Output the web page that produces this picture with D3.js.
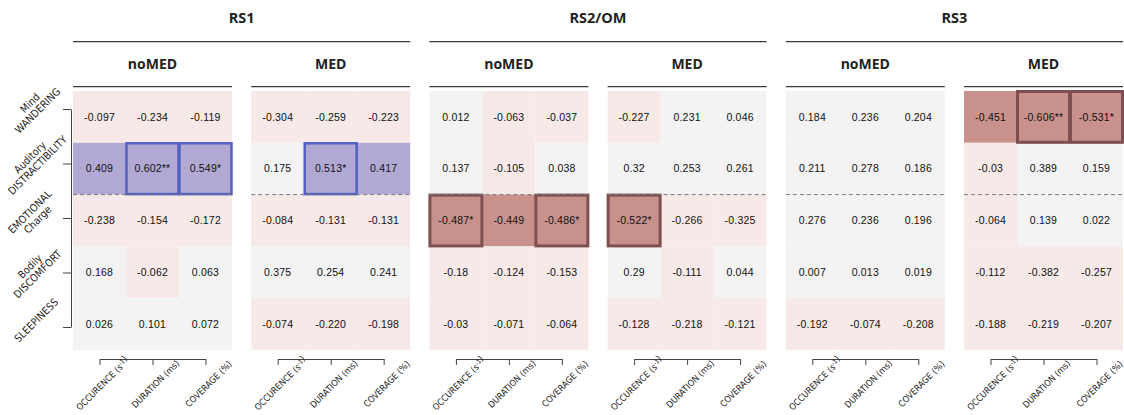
<!DOCTYPE html>
<html>
<head>
<meta charset="utf-8">
<script src="https://cdn.jsdelivr.net/npm/d3@7"></script>
<style>
  html, body { margin: 0; padding: 0; background: #fff; }
  svg { display: block; }
</style>
</head>
<body>
<svg id="chart" width="1124" height="415"></svg>
<script>
// ---------------- DATA ----------------
const groups = ["RS1", "RS2/OM", "RS3"];
const conditions = ["noMED", "MED"];
const rowKeys = ["MW", "AD", "EC", "BD", "SL"];
const rowLabels = [["Mind", "WANDERING"], ["Auditory", "DISTRACTIBILITY"], ["EMOTIONAL", "Charge"], ["Bodily", "DISCOMFORT"], ["SLEEPINESS"]];
const colKeys = ["occ", "dur", "cov"];
const colLabels = ["OCCURENCE (s{-1})", "DURATION (ms)", "COVERAGE (%)"];

const rs1_noMED = [
  ["-0.097", "-0.234", "-0.119"],
  ["0.409", "0.602**", "0.549*"],
  ["-0.238", "-0.154", "-0.172"],
  ["0.168", "-0.062", "0.063"],
  ["0.026", "0.101", "0.072"]
];
const rs1_MED = [
  ["-0.304", "-0.259", "-0.223"],
  ["0.175", "0.513*", "0.417"],
  ["-0.084", "-0.131", "-0.131"],
  ["0.375", "0.254", "0.241"],
  ["-0.074", "-0.220", "-0.198"]
];
const rs2_noMED = [
  ["0.012", "-0.063", "-0.037"],
  ["0.137", "-0.105", "0.038"],
  ["-0.487*", "-0.449", "-0.486*"],
  ["-0.18", "-0.124", "-0.153"],
  ["-0.03", "-0.071", "-0.064"]
];
const rs2_MED = [
  ["-0.227", "0.231", "0.046"],
  ["0.32", "0.253", "0.261"],
  ["-0.522*", "-0.266", "-0.325"],
  ["0.29", "-0.111", "0.044"],
  ["-0.128", "-0.218", "-0.121"]
];
const rs3_noMED = [
  ["0.184", "0.236", "0.204"],
  ["0.211", "0.278", "0.186"],
  ["0.276", "0.236", "0.196"],
  ["0.007", "0.013", "0.019"],
  ["-0.192", "-0.074", "-0.208"]
];
const rs3_MED = [
  ["-0.451", "-0.606**", "-0.531*"],
  ["-0.03", "0.389", "0.159"],
  ["-0.064", "0.139", "0.022"],
  ["-0.112", "-0.382", "-0.257"],
  ["-0.188", "-0.219", "-0.207"]
];
const panelData = [rs1_noMED, rs1_MED, rs2_noMED, rs2_MED, rs3_noMED, rs3_MED];

// ---------------- STYLE ----------------
const C = {
  strongNeg: "#c9918b", weakNeg: "#f6e9e8", weakPos: "#f3f3f3", strongPos: "#b1a8d4",
  borderNeg: "#7e4f50", borderPos: "#5360c2", line: "#3a3a3a", text: "#111"
};
const labelFont = "'Liberation Sans Narrow', 'DejaVu Sans Condensed', 'Arial Narrow', sans-serif";
const headFont = "'Open Sans', 'Noto Sans', sans-serif";
const valueFont = "'Liberation Sans', Arial, sans-serif";

const svg = d3.select("#chart");

const panelScale = d3.scaleBand().domain(d3.range(6)).range([73, 1123]).paddingInner(0.108).paddingOuter(0);
const bw = panelScale.bandwidth();
const colScale = d3.scaleBand().domain(colKeys).range([0, bw]);
const rowScale = d3.scaleBand().domain(rowKeys).range([91, 350]);
const color = d3.scaleThreshold().domain([-0.4, 0, 0.4]).range([C.strongNeg, C.weakNeg, C.weakPos, C.strongPos]);

// ---------------- HEADERS ----------------
groups.forEach((g, gi) => {
  const x0 = panelScale(gi * 2), x1 = panelScale(gi * 2 + 1) + bw;
  svg.append("line").attr("x1", x0).attr("x2", x1).attr("y1", 41.7).attr("y2", 41.7)
    .attr("stroke", C.line).attr("stroke-width", 1.3);
  svg.append("text").attr("x", (x0 + x1) / 2).attr("y", 23).attr("text-anchor", "middle")
    .attr("font-family", headFont).attr("font-weight", 700).attr("font-size", 14.5)
    .attr("fill", "#222").text(g);
});

// ---------------- PANELS ----------------
panelData.forEach((data, pi) => {
  const px = panelScale(pi);
  const gp = svg.append("g").attr("transform", `translate(${px},0)`);
  gp.append("line").attr("x1", 0).attr("x2", bw).attr("y1", 86.7).attr("y2", 86.7)
    .attr("stroke", C.line).attr("stroke-width", 1.3);
  gp.append("text").attr("x", bw / 2).attr("y", 69).attr("text-anchor", "middle")
    .attr("font-family", headFont).attr("font-weight", 700).attr("font-size", 14)
    .attr("fill", "#222").text(conditions[pi % 2]);

  const cells = [];
  data.forEach((row, ri) => row.forEach((lab, ci) => {
    cells.push({ r: rowKeys[ri], c: colKeys[ci], lab, v: parseFloat(lab), sig: lab.includes("*") });
  }));

  gp.selectAll("rect.cell").data(cells).join("rect").attr("class", "cell")
    .attr("x", d => colScale(d.c)).attr("y", d => rowScale(d.r))
    .attr("width", colScale.bandwidth()).attr("height", rowScale.bandwidth())
    .attr("fill", d => color(d.v));

  gp.selectAll("rect.sig").data(cells.filter(d => d.sig)).join("rect").attr("class", "sig")
    .attr("x", d => colScale(d.c) + 0.5).attr("y", d => rowScale(d.r) + 0.5)
    .attr("width", colScale.bandwidth() - 1).attr("height", rowScale.bandwidth() - 1)
    .attr("fill", "none")
    .attr("stroke", d => d.v < 0 ? C.borderNeg : C.borderPos)
    .attr("stroke-width", d => d.v < 0 ? 3 : 2.5);

  // dashed separator between row 2 and row 3
  const ySep = rowScale(rowKeys[2]);
  gp.append("line").attr("x1", 0).attr("x2", bw).attr("y1", ySep).attr("y2", ySep)
    .attr("stroke", "#7a7a7a").attr("stroke-width", 1).attr("stroke-dasharray", "4,3");

  gp.selectAll("text.val").data(cells).join("text").attr("class", "val")
    .attr("x", d => colScale(d.c) + colScale.bandwidth() / 2)
    .attr("y", d => rowScale(d.r) + rowScale.bandwidth() / 2 + 3.7)
    .attr("text-anchor", "middle").attr("font-family", valueFont).attr("font-size", 10.5)
    .attr("letter-spacing", 0.2).attr("fill", C.text).text(d => d.lab);

  // x axis bracket
  const xPoint = d3.scalePoint().domain(colKeys)
    .range([colScale(colKeys[0]) + colScale.bandwidth() / 2, colScale(colKeys[2]) + colScale.bandwidth() / 2]);
  const ax = gp.append("g").attr("transform", "translate(0,359)")
    .call(d3.axisBottom(xPoint).tickSize(6).tickSizeOuter(0).tickFormat(""));
  ax.select(".domain").attr("stroke", "#444");
  ax.selectAll(".tick line").attr("stroke", "#444");

  colKeys.forEach((k, i) => {
    const t = gp.append("text")
      .attr("transform", `translate(${xPoint(k) + 3},384) rotate(-45)`)
      .attr("text-anchor", "middle").attr("dy", "0.35em")
      .attr("font-family", labelFont).attr("font-size", 9).attr("fill", "#222");
    const parts = colLabels[i].split(/[{}]/);
    parts.forEach((p, j) => {
      if (!p) return;
      if (j % 2 === 1) {
        t.append("tspan").attr("dy", -3).attr("font-size", 6.5).text(p);
        t.append("tspan").attr("dy", 3).text("");
      } else {
        t.append("tspan").text(p);
      }
    });
  });
});

// ---------------- Y AXIS ----------------
const yPoint = d3.scalePoint().domain(rowKeys).range([109, 327]);
const ay = svg.append("g").attr("transform", "translate(71,0)")
  .call(d3.axisLeft(yPoint).tickSize(8).tickSizeOuter(0).tickFormat(""));
ay.select(".domain").attr("stroke", "#444");
ay.selectAll(".tick line").attr("stroke", "#444");

rowKeys.forEach((k, i) => {
  const lines = rowLabels[i];
  const g = svg.append("g").attr("transform", `translate(36,${yPoint(k) - (lines.length === 1 ? 7 : 0)}) rotate(-45)`);
  lines.forEach((ln, j) => {
    const yy = lines.length === 1 ? 4 : (j === 0 ? -5 : 6);
    g.append("text").attr("x", 0).attr("y", yy).attr("text-anchor", "middle")
      .attr("font-family", labelFont).attr("font-size", 10.5).attr("fill", "#222").text(ln);
  });
});
</script>
</body>
</html>
